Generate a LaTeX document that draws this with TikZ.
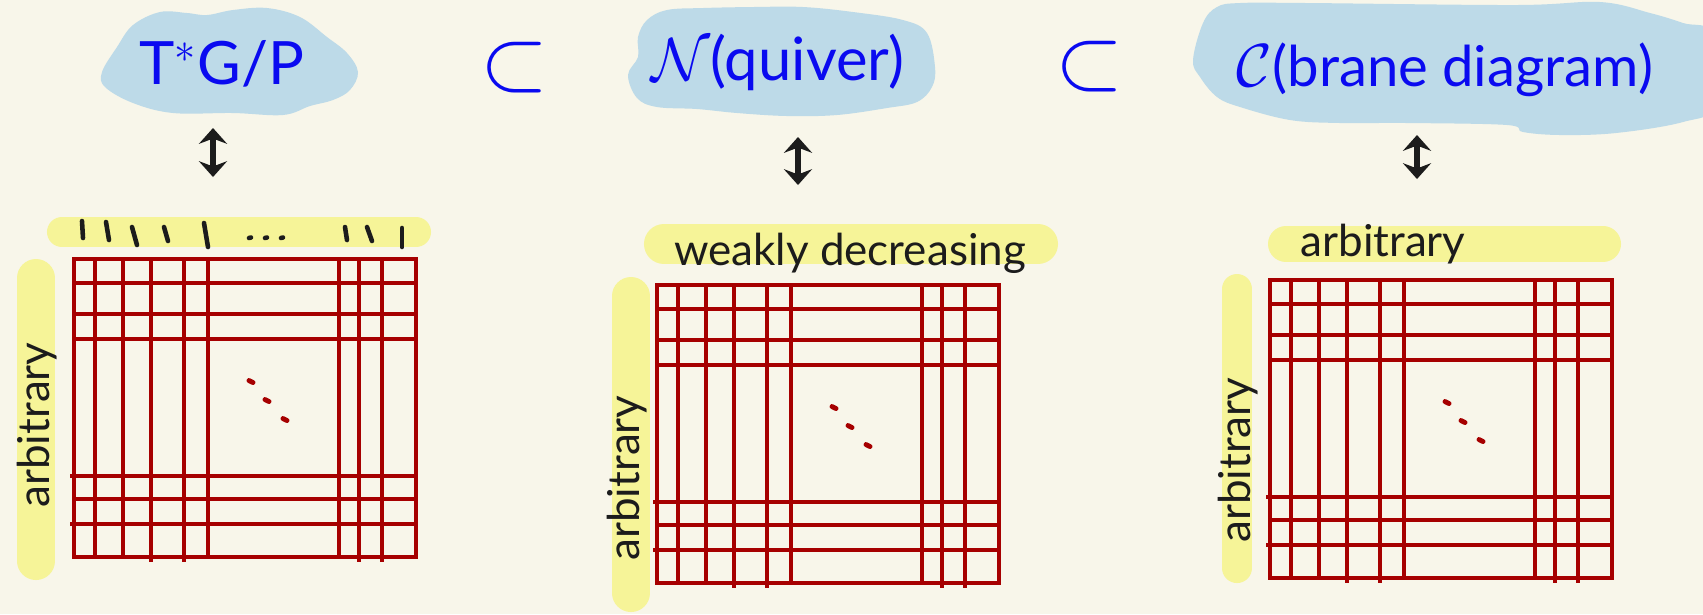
\documentclass[tikz,border=0pt]{standalone}
\usepackage{fontspec}
\setmainfont{Lato}
\usepackage{amssymb}
\usepackage{tikz}
\usetikzlibrary{arrows.meta}
\usetikzlibrary{positioning}

\definecolor{paper}{RGB}{248,246,234}
\definecolor{cloudblue}{RGB}{189,218,232}
\definecolor{inkblue}{RGB}{10,10,240}
\definecolor{hlyellow}{RGB}{246,244,152}
\definecolor{gridred}{RGB}{166,0,0}
\definecolor{ink}{RGB}{28,28,28}

\tikzset{
  cloud/.style={fill=cloudblue},
  hlbar/.style={draw=hlyellow, line cap=round},
  gridline/.style={draw=gridred, line width=1.1pt},
  tickmark/.style={draw=ink, line width=1.3pt, line cap=round},
  dblarrow/.style={draw=ink, line width=1.6pt,
    {Stealth[length=4.5pt,width=8pt,inset=1.5pt]}-{Stealth[length=4.5pt,width=8pt,inset=1.5pt]}},
  bluelabel/.style={text=inkblue, inner sep=0pt, font=\fontsize{17}{19}\selectfont},
  sublabel/.style={text=inkblue, inner sep=0pt, font=\fontsize{23}{25}\selectfont},
  hltext/.style={text=ink, inner sep=0pt, font=\fontsize{12.5}{14}\selectfont}
}

\begin{document}
\begin{tikzpicture}[x=0.01cm, y=-0.01cm]
        \useasboundingbox (0,0) rectangle (1703,614);
        \fill[paper] (0,0) rectangle (1703,614);
        \clip (0,0) rectangle (1703,614);

        % blue clouds
        \fill[cloud] plot[smooth cycle, tension=0.6] coordinates {(102,72) (117,47) (133,25) (160,12) (187,13) (207,15) (233,10) (267,8) (300,17) (327,37) (347,53) (358,72) (350,90) (333,100) (310,106) (283,115) (233,113) (173,113) (133,103) (105,87)};
        \fill[cloud] plot[smooth cycle, tension=0.6] coordinates {(628,75) (638,57) (638,37) (647,20) (667,10) (703,8) (753,7) (803,7) (853,12) (903,20) (927,33) (935,67) (932,87) (917,102) (887,108) (837,115) (787,116) (737,113) (697,109) (657,107) (637,98)};
        \fill[cloud] plot[smooth cycle, tension=0.6] coordinates {(1193,60) (1203,23) (1217,7) (1240,3) (1307,3) (1516,5) (1600,2) (1650,13) (1683,23) (1715,35) (1715,105) (1683,122) (1616,133) (1560,135) (1523,132) (1507,125) (1407,123) (1340,123) (1290,120) (1240,107) (1217,97) (1200,77)};

        \node[bluelabel] (top1) at (222,64) {T$^{\ast}$G/P};
        \node[bluelabel] (top2) at (778,62) {$\mathcal{N}$(quiver)};
        \node[bluelabel, font=\fontsize{16}{18}\selectfont] (top3) at (1445,70) {$\mathcal{C}$(brane diagram)};
        \node[sublabel] (sub1) at (515,68) {$\subset$};
        \node[sublabel] (sub2) at (1090,67) {$\subset$};

        % arrows
        \coordinate (a1s) at (213,128);
        \coordinate (a1e) at (213,177);
        \coordinate (a2s) at (798,137);
        \coordinate (a2e) at (798,185);
        \coordinate (a3s) at (1417,135);
        \coordinate (a3e) at (1417,179);
        \draw[dblarrow] (a1s) -- (a1e);
        \draw[dblarrow] (a2s) -- (a2e);
        \draw[dblarrow] (a3s) -- (a3e);

        % yellow highlights
        \draw[hlbar, line width=0.30cm] (62,232) -- (416,232);
        \draw[hlbar, line width=0.40cm] (664,244) -- (1038,244);
        \draw[hlbar, line width=0.36cm] (1286,244) -- (1603,244);
        \draw[hlbar, line width=0.38cm] (36,278) -- (36,561);
        \draw[hlbar, line width=0.38cm] (631,296) -- (631,593);
        \draw[hlbar, line width=0.30cm] (1237,289) -- (1237,568);

        % column marks
        \foreach \xa/\ya/\xb/\yb in {82/221/83/238, 106/222/109/240, 132/227/137/245, 164/227/168/241, 204/223/208/247, 345/227/347/240, 367/227/372/241, 402/228/402/247}
            \draw[tickmark] (\xa,\ya) -- (\xb,\yb);
        \foreach \x in {250,266,282}
            \draw[tickmark] (\x-1,238) -- (\x+1,237.5);

        \node[hltext] (cond2) at (850,253) {weakly decreasing};
        \node[hltext] (cond3) at (1383,244) {arbitrary};
        \node[hltext, rotate=90] (row1) at (37,425) {arbitrary};
        \node[hltext, rotate=90] (row2) at (627,478) {arbitrary};
        \node[hltext, rotate=90] (row3) at (1238,460) {arbitrary};

        % red grids
        \foreach \gx/\gy in {74/259, 657/285, 1270/280} {
        \begin{scope}[shift={(\gx,\gy)}]
        \draw[gridline] (0,0) rectangle (342,298);
        \foreach \x in {21,49,134,265}
            \draw[gridline] (\x,0) -- (\x,298);
        \foreach \x in {77,110,285,308}
            \draw[gridline] (\x,-2) -- (\x,303);
        \foreach \y in {24,55,80,240}
            \draw[gridline] (0,\y) -- (342,\y);
        \foreach \y in {217,265}
            \draw[gridline] (-4,\y) -- (342,\y);
        \foreach \dx/\dy in {177/123, 193/142, 211/161}
            \draw[gridline, line width=1.4pt, line cap=round] (\dx-2,\dy-1.5) -- (\dx+2,\dy+0.5);
        \end{scope}
        }
\end{tikzpicture}
\end{document}
